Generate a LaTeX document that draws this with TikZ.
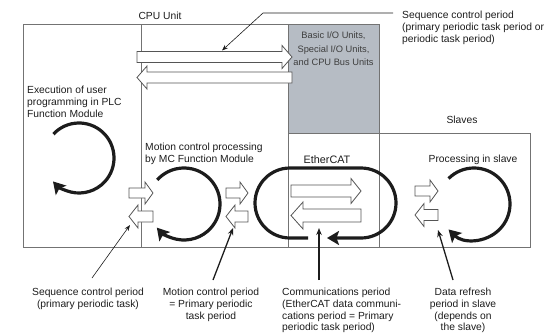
\documentclass[tikz,border=0pt]{standalone}
\usepackage{fontspec}
\setmainfont{Liberation Sans}
\usetikzlibrary{arrows.meta}
\definecolor{boxgray}{RGB}{115,115,115}
\definecolor{fillgray}{RGB}{182,188,196}
\definecolor{ink}{RGB}{28,28,28}
\newcommand\hollowR[6]{\draw[hollow] (#1,#3-#4) -- (#2-#6,#3-#4) -- (#2-#6,#3-#5) -- (#2,#3) -- (#2-#6,#3+#5) -- (#2-#6,#3+#4) -- (#1,#3+#4) -- cycle;}
\newcommand\hollowL[6]{\draw[hollow] (#2,#3-#4) -- (#1+#6,#3-#4) -- (#1+#6,#3-#5) -- (#1,#3) -- (#1+#6,#3+#5) -- (#1+#6,#3+#4) -- (#2,#3+#4) -- cycle;}
\begin{document}
\begin{tikzpicture}[x=1pt,y=-1pt,
  boxline/.style={draw=boxgray,line width=0.8pt},
  hollow/.style={draw=ink!75,fill=white,line width=0.8pt,line join=miter},
  cyc/.style={draw=ink,line width=3.2pt,-{Stealth[length=12pt,width=14pt,inset=2.5pt]}},
  leadthin/.style={draw=ink,line width=0.6pt,-{Stealth[length=6pt,width=4.5pt]}},
  leadthick/.style={draw=ink,line width=1.3pt,-{Stealth[length=7pt,width=5.5pt]}},
  lbl/.style={inner sep=0pt,text=ink,font={\fontsize{10.3}{11.7}\selectfont}},
  graylbl/.style={inner sep=0pt,text=ink!85,font={\fontsize{9.3}{13.3}\selectfont}},
  eclbl/.style={inner sep=0pt,text=ink,font={\fontsize{10.8}{12}\selectfont}}]
\useasboundingbox (0,0) rectangle (553,332);
% boxes
\fill[fillgray] (288,24) rectangle (379,133);
\draw[boxline] (23,24) rectangle (379,247.5);
\draw[boxline] (141,24) -- (141,247.5);
\draw[boxline] (288,24) -- (288,247.5);
\draw[boxline] (288,133) -- (379,133);
\draw[boxline] (379,133) rectangle (530,247.5);
% long arrows at top
\hollowR{137}{292}{57}{5.5}{11.5}{10}
\hollowL{137}{292}{77.5}{5.5}{11.5}{10}
% EtherCAT arrows
\hollowR{291}{361}{191}{6}{12.5}{10}
\hollowL{291}{361}{215.5}{6.5}{13.5}{12}
% small pairs
\hollowR{129}{153}{193}{5}{11}{8}
\hollowL{129}{153}{216.5}{5.5}{11.5}{9}
\hollowR{226}{248}{193}{5}{11}{8}
\hollowL{226}{248}{216.5}{5.5}{11.5}{9}
\hollowR{415}{438}{191}{5}{11}{8}
\hollowL{415}{438}{215}{5.5}{11.5}{9}
% cycles
\coordinate (plc) at (79,158);
\coordinate (mc) at (184,204);
\coordinate (sl) at (474,204);
\draw[cyc] ([shift={(-137:35)}]plc) arc[start angle=-137,end angle=138,radius=35];
\draw[cyc] ([shift={(-138:36)}]mc) arc[start angle=-138,end angle=139,radius=36];
\draw[cyc] ([shift={(-135:36)}]sl) arc[start angle=-135,end angle=135,radius=36];
\draw[cyc] (308,238) -- (290,238) arc[start angle=90,end angle=270,radius=35]
  -- (361,168) arc[start angle=-90,end angle=90,radius=35] -- (327,238);
% texts
\node[lbl] (cpu) at (160,16) {CPU Unit};
\node[lbl,anchor=north west,align=left] (seqtop) at (402,11.2)
  {Sequence control period\\(primary periodic task period or\\periodic task period)};
\node[graylbl,anchor=north,align=center] (units) at (333.5,32)
  {Basic I/O Units,\\Special I/O Units,\\and CPU Bus Units};
\node[lbl,anchor=north west,align=left] (exec) at (27,86.3)
  {Execution of user\\programming in PLC\\Function Module};
\node[lbl,anchor=north west,align=left] (mcp) at (145,143.3)
  {Motion control processing\\by MC Function Module};
\node[lbl] (slaves) at (462,120) {Slaves};
\node[eclbl] (ecat) at (327,160) {EtherCAT};
\node[lbl] (proc) at (473,160) {Processing in slave};
\node[lbl,anchor=north,align=center] (seqbot) at (88,288.2)
  {Sequence control period\\(primary periodic task)};
\node[lbl,anchor=north,align=center] (motper) at (211,288.2)
  {Motion control period\\= Primary periodic\\task period};
\node[lbl,anchor=north west,align=left] (comm) at (282,288.2)
  {Communications period\\(EtherCAT data communi-\\cations period = Primary\\periodic task period)};
\node[lbl,anchor=north,align=center] (refresh) at (463,288.2)
  {Data refresh\\period in slave\\(depends on\\the slave)};
% leader lines
\coordinate (s1) at (393,13);
\coordinate (k1) at (263,13);
\coordinate (e1) at (222,50.5);
\draw[leadthin] (s1) -- (k1) -- (e1);
\coordinate (s2) at (92,278);
\coordinate (e2) at (130,225);
\draw[leadthin] (s2) -- (e2);
\coordinate (s3) at (213,280);
\coordinate (e3) at (233,228);
\draw[leadthick] (s3) -- (e3);
\coordinate (s4) at (319,280);
\coordinate (e4) at (319,228);
\draw[leadthick] (s4) -- (e4);
\coordinate (s5) at (453,280);
\coordinate (e5) at (438,230);
\draw[leadthick] (s5) -- (e5);
\end{tikzpicture}
\end{document}
